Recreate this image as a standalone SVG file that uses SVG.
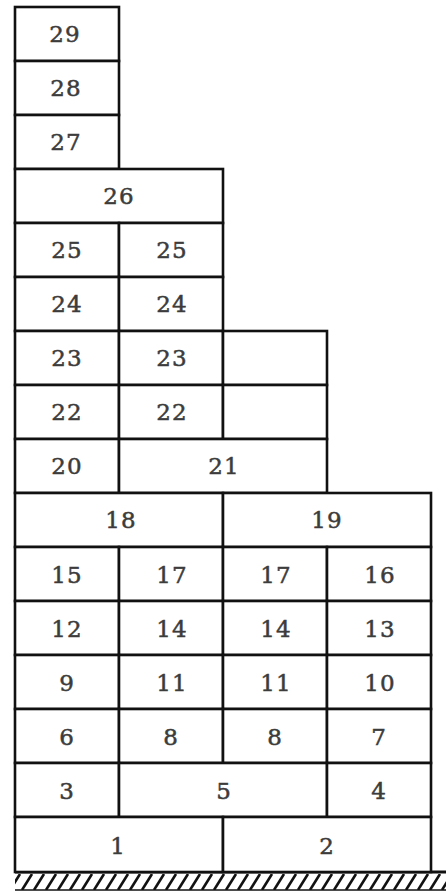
<svg xmlns="http://www.w3.org/2000/svg" width="446" height="894" viewBox="0 0 446 894">
<defs>
<style>
.b rect{fill:#fff;stroke:#111;stroke-width:2.6}
.b text{font-family:"DejaVu Serif","Liberation Serif",serif;font-size:23px;fill:#3c3c3c;stroke:#3c3c3c;stroke-width:0.5;text-anchor:middle;letter-spacing:1px}
</style>
<pattern id="hatch" x="0" y="874" width="12" height="16" patternUnits="userSpaceOnUse">
<line x1="-2" y1="16" x2="8" y2="0" stroke="#111" stroke-width="2.6"/>
<line x1="10" y1="16" x2="20" y2="0" stroke="#111" stroke-width="2.6"/>
</pattern>
</defs>
<rect width="446" height="894" fill="#fff"/>
<g id="ground">
<rect x="15" y="874" width="431" height="16" fill="url(#hatch)"/>
<line x1="15" y1="872" x2="446" y2="872" stroke="#111" stroke-width="3"/>
<line x1="15" y1="890" x2="446" y2="890" stroke="#111" stroke-width="1.5"/>
</g>
<g class="b">
<g id="b29"><rect x="15" y="7" width="104" height="54"/><text x="65" y="42">29</text></g>
<g id="b28"><rect x="15" y="61" width="104" height="54"/><text x="66" y="96">28</text></g>
<g id="b27"><rect x="15" y="115" width="104" height="54"/><text x="66" y="150">27</text></g>
<g id="b26"><rect x="15" y="169" width="208" height="54"/><text x="119" y="204">26</text></g>
<g id="b25a"><rect x="15" y="223" width="104" height="54"/><text x="67" y="258">25</text></g>
<g id="b25b"><rect x="119" y="223" width="104" height="54"/><text x="172" y="258">25</text></g>
<g id="b24a"><rect x="15" y="277" width="104" height="54"/><text x="67" y="312">24</text></g>
<g id="b24b"><rect x="119" y="277" width="104" height="54"/><text x="172" y="312">24</text></g>
<g id="b23a"><rect x="15" y="331" width="104" height="54"/><text x="67" y="366">23</text></g>
<g id="b23b"><rect x="119" y="331" width="104" height="54"/><text x="172" y="366">23</text></g>
<g id="e23"><rect x="223" y="331" width="104" height="54"/></g>
<g id="b22a"><rect x="15" y="385" width="104" height="54"/><text x="67" y="420">22</text></g>
<g id="b22b"><rect x="119" y="385" width="104" height="54"/><text x="172" y="420">22</text></g>
<g id="e22"><rect x="223" y="385" width="104" height="54"/></g>
<g id="b20"><rect x="15" y="439" width="104" height="54"/><text x="67" y="474">20</text></g>
<g id="b21"><rect x="119" y="439" width="208" height="54"/><text x="224" y="474">21</text></g>
<g id="b18"><rect x="15" y="493" width="208" height="54"/><text x="121" y="528">18</text></g>
<g id="b19"><rect x="223" y="493" width="208" height="54"/><text x="327" y="528">19</text></g>
<g id="b15"><rect x="15" y="547" width="104" height="54"/><text x="67" y="583">15</text></g>
<g id="b17a"><rect x="119" y="547" width="104" height="54"/><text x="172" y="583">17</text></g>
<g id="b17b"><rect x="223" y="547" width="104" height="54"/><text x="276" y="583">17</text></g>
<g id="b16"><rect x="327" y="547" width="104" height="54"/><text x="380" y="583">16</text></g>
<g id="b12"><rect x="15" y="601" width="104" height="54"/><text x="67" y="637">12</text></g>
<g id="b14a"><rect x="119" y="601" width="104" height="54"/><text x="172" y="637">14</text></g>
<g id="b14b"><rect x="223" y="601" width="104" height="54"/><text x="276" y="637">14</text></g>
<g id="b13"><rect x="327" y="601" width="104" height="54"/><text x="380" y="637">13</text></g>
<g id="b9"><rect x="15" y="655" width="104" height="54"/><text x="67" y="691">9</text></g>
<g id="b11a"><rect x="119" y="655" width="104" height="54"/><text x="172" y="691">11</text></g>
<g id="b11b"><rect x="223" y="655" width="104" height="54"/><text x="276" y="691">11</text></g>
<g id="b10"><rect x="327" y="655" width="104" height="54"/><text x="380" y="691">10</text></g>
<g id="b6"><rect x="15" y="709" width="104" height="54"/><text x="67" y="745">6</text></g>
<g id="b8a"><rect x="119" y="709" width="104" height="54"/><text x="171" y="745">8</text></g>
<g id="b8b"><rect x="223" y="709" width="104" height="54"/><text x="275" y="745">8</text></g>
<g id="b7"><rect x="327" y="709" width="104" height="54"/><text x="379" y="745">7</text></g>
<g id="b3"><rect x="15" y="763" width="104" height="54"/><text x="67" y="799">3</text></g>
<g id="b5"><rect x="119" y="763" width="208" height="54"/><text x="224" y="799">5</text></g>
<g id="b4"><rect x="327" y="763" width="104" height="54"/><text x="379" y="799">4</text></g>
<g id="b1"><rect x="15" y="817" width="208" height="55"/><text x="118" y="854">1</text></g>
<g id="b2"><rect x="223" y="817" width="208" height="55"/><text x="327" y="854">2</text></g>
</g>
</svg>
